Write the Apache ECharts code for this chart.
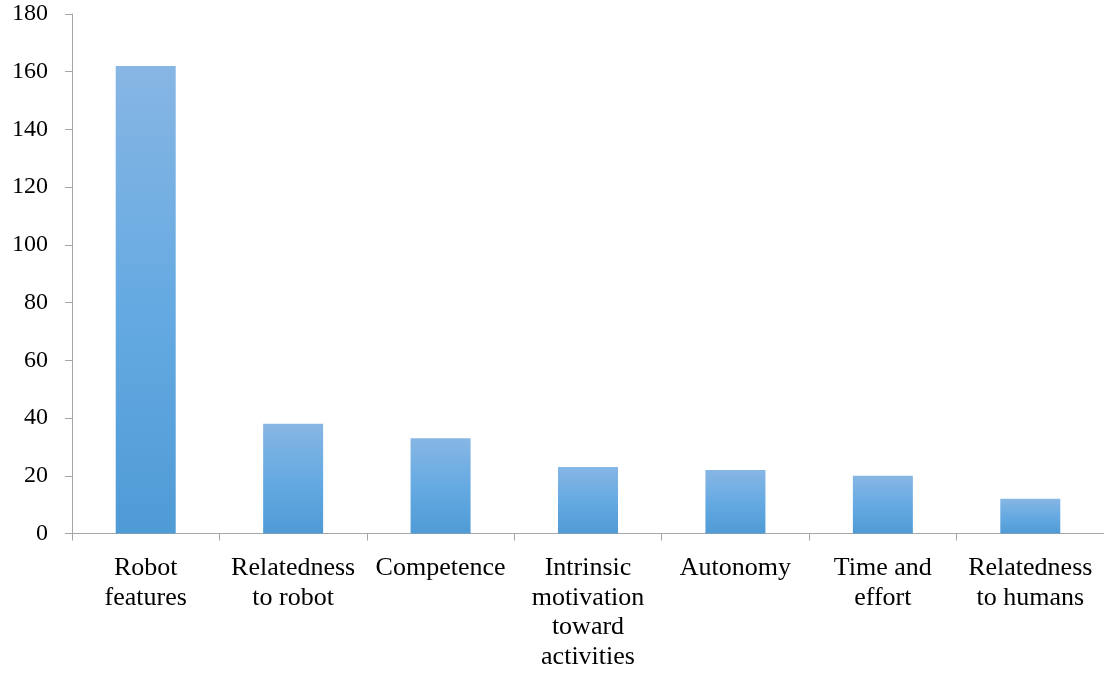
<!DOCTYPE html>
<html><head><meta charset="utf-8">
<script src="https://cdn.jsdelivr.net/npm/echarts@6/dist/echarts.min.js"></script>
<style>html,body{margin:0;padding:0;background:#fff}#c{width:1104px;height:677px}</style>
</head><body><div id="c"></div>
<script>
const categories = ["Robot\nfeatures", "Relatedness\nto robot", "Competence", "Intrinsic\nmotivation\ntoward\nactivities", "Autonomy", "Time and\neffort", "Relatedness\nto humans"];
const values = [162, 38, 33, 23, 22, 20, 12];
const yTicks = {min: 0, max: 180, interval: 20};

const chart = echarts.init(document.getElementById('c'));
const font = '"Liberation Serif", "Times New Roman", serif';
chart.setOption({
  animation: false,
  grid: {left: 72, top: 14, width: 1036, height: 519.5, containLabel: false},
  xAxis: {
    type: 'category', data: categories,
    axisLine: {lineStyle: {color: '#a6a6a6', width: 1}},
    axisTick: {show: true, length: 7, lineStyle: {color: '#a6a6a6'}},
    axisLabel: {color: '#000', fontFamily: font, fontSize: 26, lineHeight: 29.5, margin: 20, interval: 0}
  },
  yAxis: {
    type: 'value', min: yTicks.min, max: yTicks.max, interval: yTicks.interval,
    axisLine: {show: true, lineStyle: {color: '#a6a6a6', width: 1}},
    axisTick: {show: true, length: 7, lineStyle: {color: '#a6a6a6'}},
    splitLine: {show: false},
    axisLabel: {color: '#000', fontFamily: font, fontSize: 24, margin: 24}
  },
  series: [{
    type: 'bar', data: values, barWidth: 60,
    itemStyle: {color: new echarts.graphic.LinearGradient(0, 0, 0, 1, [
      {offset: 0, color: '#87b6e4'}, {offset: 0.5, color: '#66aae2'}, {offset: 1, color: '#4f9bd6'}
    ], false)}
  }]
});
</script></body></html>
